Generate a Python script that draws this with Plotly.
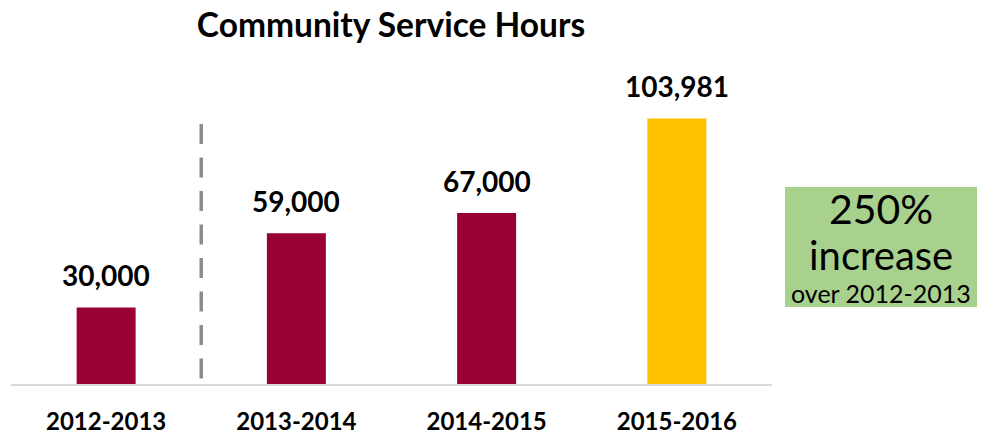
import plotly.graph_objects as go

# ---- data ----
years = ["2012-2013", "2013-2014", "2014-2015", "2015-2016"]
hours = [30000, 59000, 67000, 103981]
labels = ["30,000", "59,000", "67,000", "103,981"]
bar_colors = ["#990033", "#990033", "#990033", "#FFC000"]
title_text = "Community Service Hours"
callout_lines = ["250%", "increase", "over 2012-2013"]

# ---- layout geometry (pixels, in reference-image coordinates) ----
OFF = 8  # default page body margin (figure starts 8px right / down)
W, H = 991 - OFF, 438 - OFF
ML, MR, MT, MB = 11 - OFF, 219, 52 - OFF, 54
PW, PH = W - ML - MR, H - MT - MB
YMAX = 130000
FONT = "Lato"


def px_x(p):
    return (p - OFF - ML) / PW


def px_y(p):
    return (H - MB - (p - OFF)) / PH


fig = go.Figure()
fig.add_trace(go.Bar(
    x=years, y=hours, marker=dict(color=bar_colors, line=dict(width=0)),
    width=0.31, hoverinfo="skip", showlegend=False,
))

# value labels above bars
for yr, v, lab in zip(years, hours, labels):
    fig.add_annotation(x=yr, y=v, xref="x", yref="y", text=f"<b>{lab}</b>",
                       showarrow=False, yanchor="middle", yshift=32,
                       font=dict(family=FONT, size=28, color="black"))

# dashed divider between first and second year
fig.add_shape(type="line", xref="x", yref="y", x0=0.5, x1=0.5,
              y0=101800, y1=0,
              line=dict(color="#8C8C8C", width=3.5, dash="20px,13.5px"))

# green callout box
fig.add_shape(type="rect", xref="paper", yref="paper",
              x0=px_x(785), x1=px_x(977), y0=px_y(307), y1=px_y(187),
              fillcolor="#A9D18E", line=dict(width=0), layer="above")
cx = px_x(881)
for txt, yc, sz in zip(callout_lines, [208, 255, 293], [41, 40, 25]):
    fig.add_annotation(x=cx, y=px_y(yc), xref="paper", yref="paper", text=txt,
                       showarrow=False, xanchor="center", yanchor="middle",
                       font=dict(family=FONT, size=sz, color="black"))

fig.update_layout(
    width=W, height=H,
    margin=dict(l=ML, r=MR, t=MT, b=MB, autoexpand=False),
    paper_bgcolor="white", plot_bgcolor="white",
    title=dict(text=f"<b>{title_text}</b>", x=px_x(391), xref="paper",
               y=1 - (25 - OFF) / H, yref="container", xanchor="center", yanchor="middle",
               font=dict(family=FONT, size=33.5, color="black")),
    xaxis=dict(type="category", showgrid=False, zeroline=False, automargin=False,
               showline=True, linecolor="#D9D9D9", linewidth=2,
               ticks="", ticklabelstandoff=15,
               tickfont=dict(family=FONT, size=24, color="black", weight="bold")),
    yaxis=dict(range=[0, YMAX], visible=False, showgrid=False, zeroline=False,
               automargin=False),
    bargap=0.69,
)

fig.write_html("out.html")
